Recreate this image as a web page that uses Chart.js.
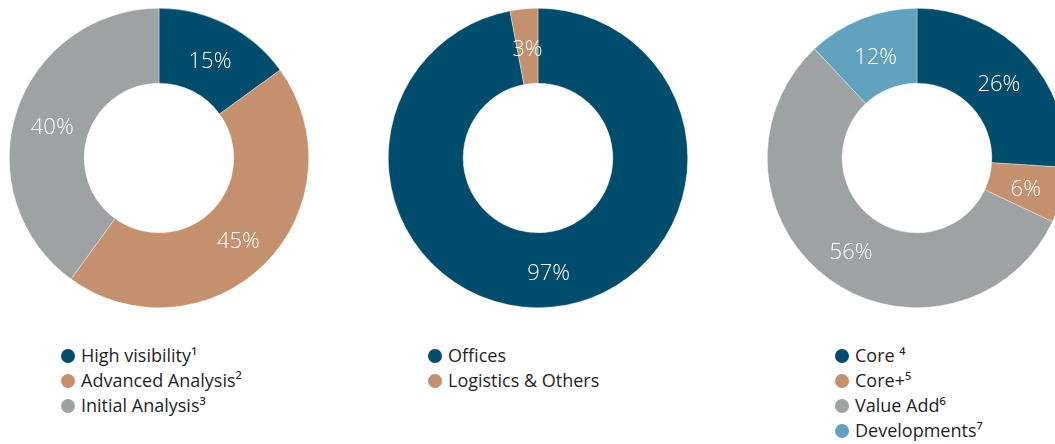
<!DOCTYPE html>
<html>
<head>
<meta charset="utf-8">
<script src="https://cdn.jsdelivr.net/npm/chart.js@4/dist/chart.umd.min.js"></script>
<style>
  html, body { margin: 0; padding: 0; background: #fff; }
  body { width: 1055px; height: 444px; overflow: hidden; position: relative; font-family: "Open Sans", sans-serif; }
  .ring { position: absolute; top: 8px; width: 300px; height: 300px; }
  .legend { position: absolute; top: 343px; margin: 0; padding: 0; list-style: none; font-size: 18px; color: #1f1f1f; }
  .legend li { height: 25px; line-height: 25px; white-space: nowrap; }
  .legend .dot { display: inline-block; width: 14px; height: 14px; border-radius: 50%; margin-right: 6px; vertical-align: -1px; }
</style>
</head>
<body>
<div class="ring" style="left:9px"><canvas id="visibilityChart" width="300" height="300"></canvas></div>
<div class="ring" style="left:388px"><canvas id="sectorChart" width="300" height="300"></canvas></div>
<div class="ring" style="left:767px"><canvas id="strategyChart" width="300" height="300"></canvas></div>
<ul class="legend" id="visibilityLegend" style="left:61px"></ul>
<ul class="legend" id="sectorLegend" style="left:428px"></ul>
<ul class="legend" id="strategyLegend" style="left:835px"></ul>
<script>
  var DARK_BLUE = "#004c6c";
  var TAN = "#c4906e";
  var GREY = "#9ea2a2";
  var LIGHT_BLUE = "#61a3be";

  var visibilityLabels = ["High visibility¹", "Advanced Analysis²", "Initial Analysis³"];
  var visibilityValues = [15, 45, 40];
  var visibilityColors = [DARK_BLUE, TAN, GREY];

  var sectorLabels = ["Offices", "Logistics & Others"];
  var sectorValues = [97, 3];
  var sectorColors = [DARK_BLUE, TAN];

  var strategyLabels = ["Core ⁴", "Core+⁵", "Value Add⁶", "Developments⁷"];
  var strategyValues = [26, 6, 56, 12];
  var strategyColors = [DARK_BLUE, TAN, GREY, LIGHT_BLUE];

  // writes "NN%" in the middle of each slice
  var sliceLabels = {
    id: "sliceLabels",
    afterDatasetsDraw: function (chart) {
      var ctx = chart.ctx;
      var ds = chart.data.datasets[0];
      ctx.save();
      ctx.fillStyle = "#ffffff";
      ctx.font = "300 22px 'Open Sans', sans-serif";
      ctx.textAlign = "center";
      ctx.textBaseline = "middle";
      chart.getDatasetMeta(0).data.forEach(function (arc, i) {
        var p = arc.tooltipPosition();
        ctx.fillText(ds.data[i] + "%", p.x, p.y + 4);
      });
      ctx.restore();
    },
  };

  function buildRing(canvasId, labels, values, colors) {
    return new Chart(document.getElementById(canvasId), {
      type: "doughnut",
      data: {
        labels: labels,
        datasets: [
          {
            data: values,
            backgroundColor: colors,
            borderColor: "rgba(255,255,255,0.6)",
            borderWidth: 0.6,
            hoverOffset: 0,
          },
        ],
      },
      options: {
        responsive: false,
        animation: false,
        cutout: "50%",
        layout: { padding: 0 },
        plugins: { legend: { display: false }, tooltip: { enabled: false } },
      },
      plugins: [sliceLabels],
    });
  }

  function buildLegend(listId, labels, colors) {
    var list = document.getElementById(listId);
    labels.forEach(function (label, i) {
      var li = document.createElement("li");
      var dot = document.createElement("span");
      dot.className = "dot";
      dot.style.background = colors[i];
      li.appendChild(dot);
      li.appendChild(document.createTextNode(label));
      list.appendChild(li);
    });
  }

  buildRing("visibilityChart", visibilityLabels, visibilityValues, visibilityColors);
  buildRing("sectorChart", sectorLabels, sectorValues, sectorColors);
  buildRing("strategyChart", strategyLabels, strategyValues, strategyColors);

  buildLegend("visibilityLegend", visibilityLabels, visibilityColors);
  buildLegend("sectorLegend", sectorLabels, sectorColors);
  buildLegend("strategyLegend", strategyLabels, strategyColors);
</script>
</body>
</html>
